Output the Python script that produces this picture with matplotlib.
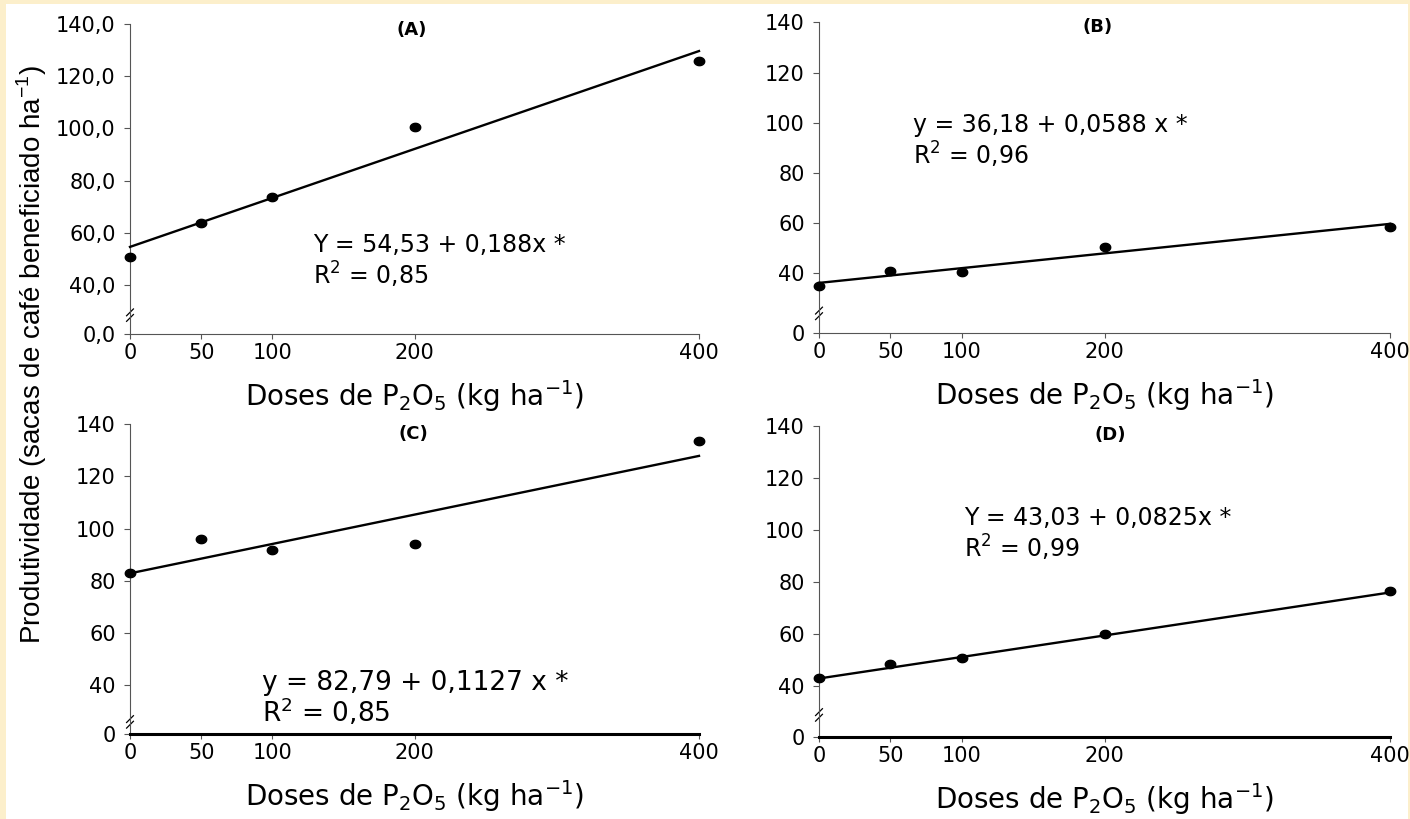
import numpy as np
import matplotlib.pyplot as plt
from matplotlib.patches import Rectangle
from matplotlib.path import Path

# Dados (produtividade em sacas/ha)
doses = [0, 50, 100, 200, 400]
prod_a = [50.8, 63.8, 73.6, 100.6, 125.9]
prod_b = [35.1, 40.9, 40.6, 50.4, 58.5]
prod_c = [82.9, 96.0, 91.8, 93.9, 133.5]
prod_d = [43.3, 48.7, 51.0, 60.1, 76.6]

intercepts = [54.53, 36.18, 82.79, 43.03]
slopes = [0.188, 0.0588, 0.1127, 0.0825]
equations = ["Y = 54,53 + 0,188x *", "y = 36,18 + 0,0588 x *",
             "y = 82,79 + 0,1127 x *", "Y = 43,03 + 0,0825x *"]
r2_values = ["0,85", "0,96", "0,85", "0,99"]
panel_names = ["(A)", "(B)", "(C)", "(D)"]

ytick_values = [40, 60, 80, 100, 120, 140]
ytick_labels_a = ["0,0", "40,0", "60,0", "80,0", "100,0", "120,0", "140,0"]
ytick_labels_int = ["0", "40", "60", "80", "100", "120", "140"]

W, H = 1410, 819
CREAM = "#FCEFCB"

# posição de cada painel (pixels) e detalhes de estilo
layout = [
    dict(x0=130, x1=699, ytop=24.3, ybot=333.7, ymin=21.2, brk=0.06,
         name_xy=(198, 137.8), eq_xy=(128.5, 55.4), r2_xy=(128.5, 43.9), eq_fs=17,
         thick=False, labels=ytick_labels_a),
    dict(x0=819, x1=1390, ytop=22.3, ybot=333.3, ymin=16.1, brk=0.064,
         name_xy=(195, 138.1), eq_xy=(65.8, 99.1), r2_xy=(65.8, 87.2), eq_fs=17,
         thick=False, labels=ytick_labels_int),
    dict(x0=130, x1=699, ytop=424.3, ybot=734.3, ymin=21.0, brk=0.04,
         name_xy=(199, 136.3), eq_xy=(92.7, 40.8), r2_xy=(92.7, 29.4), eq_fs=19,
         thick=True, labels=ytick_labels_int),
    dict(x0=819, x1=1390, ytop=425.7, ybot=736.7, ymin=20.7, brk=0.07,
         name_xy=(204, 136.4), eq_xy=(101.7, 104.6), r2_xy=(101.7, 93.2), eq_fs=17,
         thick=True, labels=ytick_labels_int),
]

# marcador elíptico (a figura original está esticada na horizontal)
t = np.linspace(0, 2 * np.pi, 60)
ellipse = Path(np.column_stack([1.25 * np.cos(t), np.sin(t)]), closed=True)

xlabel = r"Doses de P$_2$O$_5$ (kg ha$^{-1}$)"
ylabel = r"Produtividade (sacas de café beneficiado ha$^{\mathregular{-1}}$)"


def draw_panel(ax, values, i, cfg):
    ax.set_xlim(0, 400)
    ax.set_ylim(cfg["ymin"], 140)
    x_line = [min(doses), max(doses)]
    y_line = [intercepts[i] + slopes[i] * x for x in x_line]
    ax.plot(x_line, y_line, color="black", lw=1.7, clip_on=False, zorder=3)
    ax.plot(doses, values, linestyle="none", marker=ellipse, ms=7.5,
            color="black", clip_on=False, zorder=4)

    ax.set_xticks(doses)
    ax.set_xticklabels([str(d) for d in doses])
    ax.set_yticks([cfg["ymin"]] + ytick_values)
    ax.set_yticklabels(cfg["labels"])
    ax.tick_params(axis="y", direction="out", length=4.3, width=0.8,
                   color="#555555", pad=6, labelsize=15)
    ax.tick_params(axis="x", direction="out", length=3.6, width=0.8,
                   color="#555555", pad=3, labelsize=15)

    for s in ["top", "right"]:
        ax.spines[s].set_visible(False)
    ax.spines["left"].set_color("#555555")
    ax.spines["left"].set_linewidth(0.8)
    if cfg["thick"]:
        ax.spines["bottom"].set_color("black")
        ax.spines["bottom"].set_linewidth(2.2)
    else:
        ax.spines["bottom"].set_color("#555555")
        ax.spines["bottom"].set_linewidth(0.8)

    # quebra do eixo y
    b = cfg["brk"]
    for off in (-0.009, 0.009):
        ax.plot([-0.006, 0.006], [b + off - 0.011, b + off + 0.011],
                transform=ax.transAxes, color="black", lw=0.9, clip_on=False)

    ax.text(*cfg["name_xy"], panel_names[i], ha="center", va="center",
            fontsize=13, fontweight="bold")
    ax.text(*cfg["eq_xy"], equations[i], ha="left", va="center", fontsize=cfg["eq_fs"])
    ax.text(*cfg["r2_xy"], "R$^2$ = " + r2_values[i], ha="left", va="center",
            fontsize=cfg["eq_fs"])

    ax.set_xlabel(xlabel, fontsize=20)
    ax.xaxis.set_label_coords(0.5, -0.2)
    ax.xaxis.label.set_va("center")


def main():
    plt.rcParams["font.family"] = ["DejaVu Sans"]
    fig = plt.figure(figsize=(W / 100, H / 100), dpi=100, facecolor=CREAM)
    # zona branca dentro da moldura creme
    fig.patches.append(Rectangle((6 / W, 0), (1407.5 - 6) / W, 1 - 4 / H,
                                 transform=fig.transFigure, facecolor="white",
                                 edgecolor="none", zorder=-10))

    all_values = [prod_a, prod_b, prod_c, prod_d]
    for i, cfg in enumerate(layout):
        rect = [cfg["x0"] / W, 1 - cfg["ybot"] / H,
                (cfg["x1"] - cfg["x0"]) / W, (cfg["ybot"] - cfg["ytop"]) / H]
        ax = fig.add_axes(rect)
        ax.patch.set_alpha(0)
        draw_panel(ax, all_values[i], i, cfg)

    fig.text(32 / W, 1 - 355 / H, ylabel, rotation=90, ha="center", va="center",
             fontsize=20, family=["Liberation Sans", "DejaVu Sans"])

    fig.savefig("out.png", dpi=100, facecolor=CREAM)


if __name__ == "__main__":
    main()
